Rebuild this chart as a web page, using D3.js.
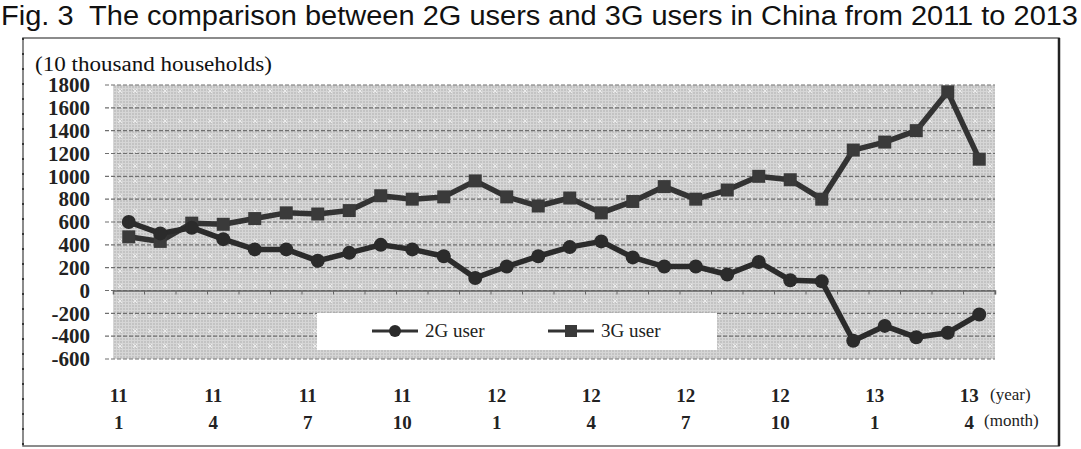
<!DOCTYPE html>
<html>
<head>
<meta charset="utf-8">
<script src="https://cdn.jsdelivr.net/npm/d3@7"></script>
<style>
  body { margin: 0; background: #fff; }
  svg { display: block; }
</style>
</head>
<body>
<div id="chart"></div>
<script>
// data (10 thousand households), Jan 2011 - Apr 2013
var months = ["11-1","11-2","11-3","11-4","11-5","11-6","11-7","11-8","11-9","11-10","11-11","11-12",
              "12-1","12-2","12-3","12-4","12-5","12-6","12-7","12-8","12-9","12-10","12-11","12-12",
              "13-1","13-2","13-3","13-4"];
var users2G = [600, 500, 550, 450, 360, 360, 260, 330, 400, 360, 300, 110,
               210, 300, 380, 430, 290, 210, 210, 140, 250, 90, 80, -440,
               -310, -410, -370, -210];
var users3G = [470, 430, 590, 580, 630, 680, 670, 700, 830, 800, 820, 960,
               820, 740, 810, 680, 780, 910, 800, 880, 1000, 970, 800, 1230,
               1300, 1400, 1740, 1150];
var yTicks = [-600, -400, -200, 0, 200, 400, 600, 800, 1000, 1200, 1400, 1600, 1800];
var yearLabels = ["11", "11", "11", "11", "12", "12", "12", "12", "13", "13"];
var monthLabels = ["1", "4", "7", "10", "1", "4", "7", "10", "1", "4"];

var W = 1081, H = 449;
var m = {left: 113, right: 86, top: 85, bottom: 90};
var w = W - m.left - m.right;
var h = H - m.top - m.bottom;
var serif = "'Liberation Serif', 'Times New Roman', serif";

var svg = d3.select("#chart")
  .append("svg")
  .attr("width", W)
  .attr("height", H);

// grey hatched plot background
var defs = svg.append("defs");
var pat = defs.append("pattern")
  .attr("id", "hatch")
  .attr("patternUnits", "userSpaceOnUse")
  .attr("width", 15).attr("height", 15);
pat.append("rect").attr("width", 15).attr("height", 15).attr("fill", "#c3c3c3");
for (var k = 0; k < 15; k += 3) {
  pat.append("rect").attr("x", k).attr("y", 0).attr("width", 1).attr("height", 15).attr("fill", "#d6d6d6");
  pat.append("rect").attr("x", 0).attr("y", k).attr("width", 15).attr("height", 1).attr("fill", "#d6d6d6");
}
pat.append("path").attr("d", "M5,4L9,8M9,4L5,8").attr("stroke", "#ececec").attr("stroke-width", 1);

// title
svg.append("text")
  .attr("x", 1)
  .attr("y", 25)
  .style("font-family", "'Liberation Sans', Arial, sans-serif")
  .style("font-size", "27px")
  .style("white-space", "pre")
  .attr("fill", "#111")
  .attr("textLength", 1077)
  .attr("lengthAdjust", "spacingAndGlyphs")
  .text("Fig. 3  The comparison between 2G users and 3G users in China from 2011 to 2013");

// outer frame
svg.append("rect")
  .attr("x", 23).attr("y", 38)
  .attr("width", 1036).attr("height", 408)
  .attr("fill", "none")
  .attr("stroke", "#666")
  .attr("stroke-width", 1.5);
svg.append("line")
  .attr("x1", 1059).attr("x2", 1059).attr("y1", 38).attr("y2", 446)
  .attr("stroke", "#222").attr("stroke-width", 2.5);
svg.append("line")
  .attr("x1", 23).attr("x2", 23).attr("y1", 38).attr("y2", 446)
  .attr("stroke", "#333").attr("stroke-width", 2)
  .attr("stroke-dasharray", "2,13");

var g = svg.append("g")
  .attr("transform", "translate(" + m.left + "," + m.top + ")");

// scales
var x = d3.scaleBand().domain(months).range([0, w]).padding(0);
var y = d3.scaleLinear().domain([-600, 1800]).range([h, 0]);
var cx = function(d, i) { return x(months[i]) + x.bandwidth() / 2; };

g.append("rect")
  .attr("width", w).attr("height", h)
  .attr("fill", "url(#hatch)");

// horizontal grid
g.append("g")
  .selectAll("line")
  .data(yTicks)
  .enter()
  .append("line")
  .attr("x1", -8).attr("x2", w)
  .attr("y1", function(d) { return y(d); })
  .attr("y2", function(d) { return y(d); })
  .attr("stroke", "#6f6f6f")
  .attr("stroke-width", 1.2)
  .attr("stroke-dasharray", "4,2");

// x axis sits on zero
g.append("g")
  .attr("transform", "translate(0," + y(0) + ")")
  .call(d3.axisBottom(x).tickSize(4).tickFormat(""))
  .call(function(a) {
    a.select(".domain").attr("stroke", "#666").attr("stroke-width", 1.5);
    a.selectAll(".tick line").attr("stroke", "#666")
      .attr("transform", "translate(" + (x.bandwidth() / 2) + ",0)");
  });

// y axis labels (plain hyphen minus, no thousands comma)
g.append("g")
  .call(d3.axisLeft(y).tickValues(yTicks).tickSize(0).tickPadding(23)
    .tickFormat(function(d) { return String(d); }))
  .call(function(a) {
    a.select(".domain").remove();
    a.selectAll("text")
      .style("font-family", serif)
      .style("font-size", "21px")
      .style("font-weight", "bold")
      .attr("fill", "#222");
  });

svg.append("text")
  .attr("x", 35).attr("y", 71)
  .style("font-family", serif)
  .style("font-size", "20px")
  .attr("fill", "#111")
  .attr("textLength", 237)
  .attr("lengthAdjust", "spacingAndGlyphs")
  .text("(10 thousand households)");

// lines
var line2 = d3.line().x(cx).y(function(d) { return y(d); });

g.append("path")
  .datum(users3G)
  .attr("fill", "none")
  .attr("stroke", "#333")
  .attr("stroke-width", 5.5)
  .attr("stroke-linejoin", "round")
  .attr("d", line2);

g.append("path")
  .datum(users2G)
  .attr("fill", "none")
  .attr("stroke", "#2b2b2b")
  .attr("stroke-width", 5.5)
  .attr("stroke-linejoin", "round")
  .attr("d", line2);

g.selectAll(".sq")
  .data(users3G)
  .enter()
  .append("rect")
  .attr("class", "sq")
  .attr("x", function(d, i) { return cx(d, i) - 6.5; })
  .attr("y", function(d) { return y(d) - 6.5; })
  .attr("width", 13).attr("height", 13)
  .attr("fill", "#3a3a3a");

g.selectAll(".dot")
  .data(users2G)
  .enter()
  .append("circle")
  .attr("class", "dot")
  .attr("cx", cx)
  .attr("cy", function(d) { return y(d); })
  .attr("r", 7)
  .attr("fill", "#2b2b2b");

// legend
var lg = g.append("g").attr("transform", "translate(" + (317 - m.left) + "," + (313 - m.top) + ")");
lg.append("rect").attr("width", 400).attr("height", 37).attr("fill", "#fff");
var legItems = [{name: "2G user", shape: "circle", x: 55}, {name: "3G user", shape: "square", x: 231}];
legItems.forEach(function(it) {
  lg.append("line")
    .attr("x1", it.x).attr("x2", it.x + 46)
    .attr("y1", 18).attr("y2", 18)
    .attr("stroke", "#333").attr("stroke-width", 3);
  if (it.shape == "circle") {
    lg.append("circle").attr("cx", it.x + 23).attr("cy", 18).attr("r", 6).attr("fill", "#2b2b2b");
  } else {
    lg.append("rect").attr("x", it.x + 17).attr("y", 12).attr("width", 12).attr("height", 12).attr("fill", "#3a3a3a");
  }
  lg.append("text")
    .attr("x", it.x + 53).attr("y", 24)
    .style("font-family", serif)
    .style("font-size", "19px")
    .attr("fill", "#222")
    .text(it.name);
});

// x labels: year over month, every third month
var labelIdx = d3.range(0, months.length, 3);
var xl = g.append("g").selectAll(".xl")
  .data(labelIdx)
  .enter()
  .append("g")
  .attr("transform", function(d) { return "translate(" + (cx(null, d) - 10) + ",0)"; });
xl.append("text")
  .attr("y", 402 - m.top)
  .attr("text-anchor", "middle")
  .style("font-family", serif)
  .style("font-size", "19px")
  .style("font-weight", "bold")
  .attr("fill", "#222")
  .text(function(d, i) { return yearLabels[i]; });
xl.append("text")
  .attr("y", 429 - m.top)
  .attr("text-anchor", "middle")
  .style("font-family", serif)
  .style("font-size", "19px")
  .style("font-weight", "bold")
  .attr("fill", "#222")
  .text(function(d, i) { return monthLabels[i]; });

svg.append("text")
  .attr("x", 990).attr("y", 400)
  .style("font-family", serif)
  .style("font-size", "17px")
  .attr("fill", "#222")
  .text("(year)");
svg.append("text")
  .attr("x", 984).attr("y", 426)
  .style("font-family", serif)
  .style("font-size", "17px")
  .attr("fill", "#222")
  .text("(month)");
</script>
</body>
</html>
